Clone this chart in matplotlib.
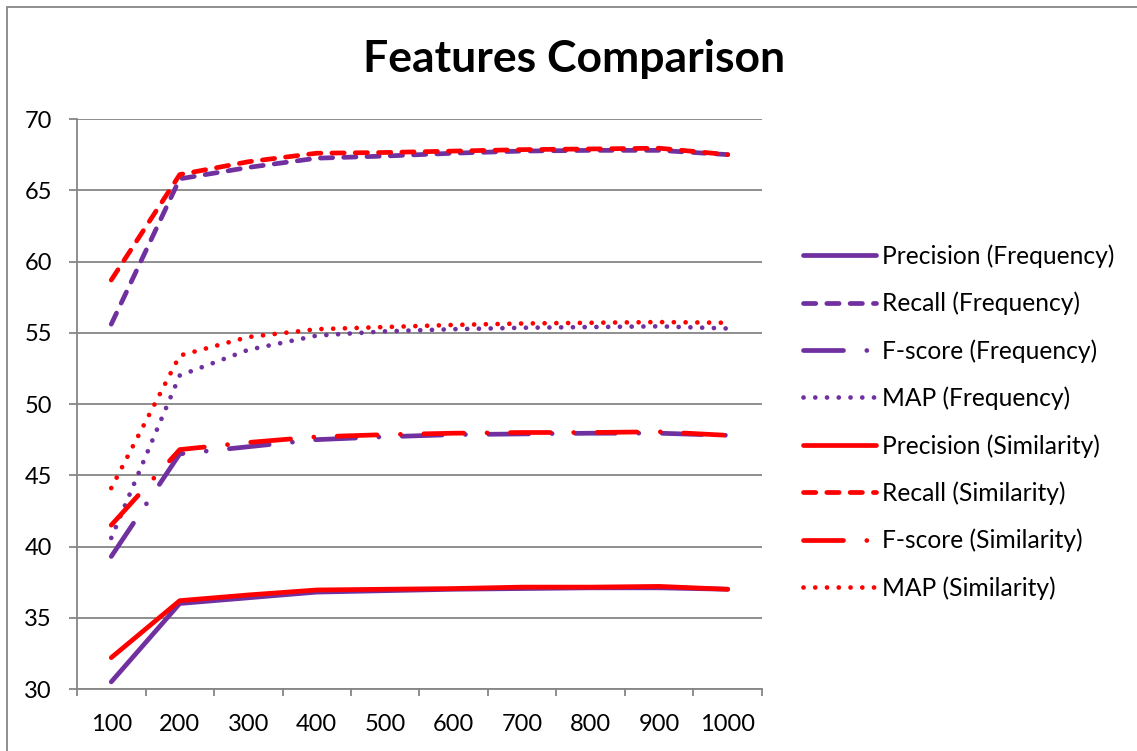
import matplotlib.pyplot as plt
from matplotlib.patches import Rectangle

plt.rcParams['font.family'] = ['Lato', 'DejaVu Sans']

sizes = ['100', '200', '300', '400', '500', '600', '700', '800', '900', '1000']

precision_freq = [30.5, 36.0, 36.4, 36.8, 36.9, 37.0, 37.05, 37.1, 37.1, 37.0]
recall_freq = [55.6, 65.8, 66.6, 67.25, 67.4, 67.6, 67.75, 67.8, 67.8, 67.5]
fscore_freq = [39.3, 46.5, 47.0, 47.5, 47.7, 47.85, 47.9, 47.95, 47.95, 47.8]
map_freq = [40.6, 52.0, 53.8, 54.8, 55.1, 55.25, 55.35, 55.4, 55.45, 55.3]

precision_sim = [32.2, 36.2, 36.6, 36.95, 37.0, 37.05, 37.15, 37.15, 37.2, 37.0]
recall_sim = [58.7, 66.1, 67.0, 67.6, 67.65, 67.75, 67.85, 67.9, 67.95, 67.5]
fscore_sim = [41.5, 46.8, 47.3, 47.7, 47.85, 47.95, 48.0, 48.0, 48.05, 47.8]
map_sim = [44.1, 53.4, 54.7, 55.25, 55.4, 55.55, 55.65, 55.7, 55.75, 55.7]

PURPLE = '#7030A0'
RED = '#FF0000'
GRID = '#868686'
LW = 3.4


def pattern(*px):
    # dash lengths given in pixels, converted to linewidth units
    return [p * 0.72 / LW for p in px]


dash = pattern(12.3, 11.0)
long_dash_dot = pattern(40.0, 23.3, 0.05, 23.3)
dot = pattern(0.05, 11.7)

series = [
    ('Precision (Frequency)', precision_freq, PURPLE, None),
    ('Recall (Frequency)', recall_freq, PURPLE, dash),
    ('F-score (Frequency)', fscore_freq, PURPLE, long_dash_dot),
    ('MAP (Frequency)', map_freq, PURPLE, dot),
    ('Precision (Similarity)', precision_sim, RED, None),
    ('Recall (Similarity)', recall_sim, RED, dash),
    ('F-score (Similarity)', fscore_sim, RED, long_dash_dot),
    ('MAP (Similarity)', map_sim, RED, dot),
]

fig = plt.figure(figsize=(11.37, 7.51), dpi=100)
ax = fig.add_axes([77 / 1137, 1 - 689 / 751, 685 / 1137, 570 / 751])

x = list(range(len(sizes)))
for label, vals, color, dashes in series:
    line, = ax.plot(x, vals, color=color, lw=LW, label=label,
                    solid_capstyle='round', dash_capstyle='round',
                    solid_joinstyle='round')
    if dashes is not None:
        line.set_dashes(dashes)

ax.set_xlim(-0.5, len(sizes) - 0.5)
ax.set_ylim(30, 70)
ax.set_yticks(range(30, 71, 5))
ax.set_xticks(x)
ax.set_xticklabels(sizes)
ax.set_xticks([i - 0.5 for i in range(len(sizes) + 1)], minor=True)

ax.grid(axis='y', color=GRID, lw=1.3)
ax.set_axisbelow(True)
for side in ['top', 'right']:
    ax.spines[side].set_visible(False)
for side in ['left', 'bottom']:
    ax.spines[side].set_color(GRID)
    ax.spines[side].set_linewidth(1.3)

ax.tick_params(axis='x', which='major', length=0, pad=18, labelsize=17)
ax.tick_params(axis='x', which='minor', length=5, width=1.3, color=GRID)
ax.tick_params(axis='y', length=6, width=1.3, color=GRID, pad=12, labelsize=17)

fig.text(0.505, 0.922, 'Features Comparison', ha='center', va='center',
         fontsize=32, fontweight='bold')

fig.legend(loc='center left', bbox_to_anchor=(803 / 1137, 1 - 422 / 751),
           frameon=False, fontsize=17.7, handlelength=2.97, handletextpad=0.25,
           labelspacing=0.97, borderpad=0, borderaxespad=0)

# outer chart frame
fig.patches.append(Rectangle((7 / 1137, -0.1), 1.2, 1 - 7 / 751 + 0.1,
                             transform=fig.transFigure, fill=False,
                             edgecolor=GRID, lw=1.3))

fig.savefig('out.png', dpi=100)
